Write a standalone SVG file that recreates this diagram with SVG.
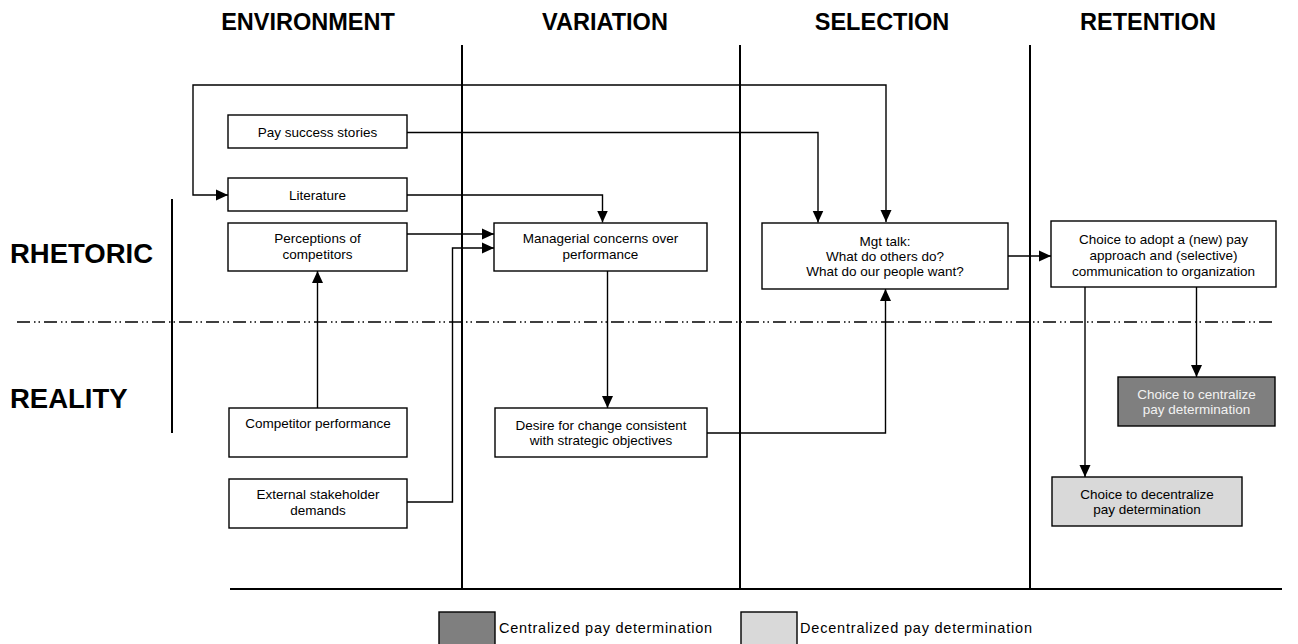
<svg xmlns="http://www.w3.org/2000/svg" width="1298" height="644" viewBox="0 0 1298 644">
<defs>
<marker id="ah" viewBox="0 0 12 12" refX="12" refY="6" markerWidth="12" markerHeight="12" markerUnits="userSpaceOnUse" orient="auto-start-reverse">
<path d="M0,0.5 L12,6 L0,11.5 Z" fill="#000"/>
</marker>
<style>
.hd{font-family:"Liberation Sans",Arial,sans-serif;font-weight:bold;font-size:23.5px;fill:#000;text-anchor:middle}
.side{font-family:"Liberation Sans",Arial,sans-serif;font-weight:bold;font-size:27.5px;fill:#000}
.bx{fill:#fff;stroke:#000;stroke-width:1.4}
.t{font-family:"Liberation Sans",Arial,sans-serif;font-size:13.5px;fill:#000;text-anchor:middle}
.tw{font-family:"Liberation Sans",Arial,sans-serif;font-size:13.5px;fill:#f2f2f2;text-anchor:middle}
.lg{font-family:"Liberation Sans",Arial,sans-serif;font-size:14.5px;fill:#000}
.c{fill:none;stroke:#000;stroke-width:1.4}
.ca{fill:none;stroke:#000;stroke-width:1.4;marker-end:url(#ah)}
.ph{stroke:#000;stroke-width:2;fill:none}
</style>
</defs>
<rect width="1298" height="644" fill="#fff"/>
<g id="headers">
<text class="hd" x="308" y="30">ENVIRONMENT</text>
<text class="hd" x="605" y="30">VARIATION</text>
<text class="hd" x="882" y="30">SELECTION</text>
<text class="hd" x="1148" y="30">RETENTION</text>
<text class="side" x="10" y="263">RHETORIC</text>
<text class="side" x="10" y="408">REALITY</text>
</g>
<g id="lanes">
<line class="ph" x1="462" y1="45" x2="462" y2="589"/>
<line class="ph" x1="740" y1="45" x2="740" y2="589"/>
<line class="ph" x1="1030" y1="45" x2="1030" y2="589"/>
<line class="ph" x1="230" y1="589" x2="1282" y2="589"/>
<line class="ph" x1="172" y1="199" x2="172" y2="433"/>
<line x1="17" y1="322" x2="1274" y2="322" stroke="#000" stroke-width="1.3" stroke-dasharray="13,4,1.5,3,1.5,4"/>
</g>
<g id="connectors">
<path class="ca" d="M886,222 V85 H193 V195 H228" style="marker-start:url(#ah)"/>
<path class="ca" d="M407,132.5 H818 V222.5"/>
<path class="ca" d="M407,195 H602.5 V222.5"/>
<path class="ca" d="M407,234 H494"/>
<path class="ca" d="M407,502 H452.5 V248 H494"/>
<path class="ca" d="M317.5,408 V271"/>
<path class="ca" d="M607.5,271 V408"/>
<path class="ca" d="M707,433 H885.5 V289"/>
<path class="ca" d="M1008,256 H1051"/>
<path class="ca" d="M1196.5,287 V377"/>
<path class="ca" d="M1085,287 V477"/>
</g>
<g id="n-pay">
<rect class="bx" x="228" y="115" width="179" height="33"/>
<text class="t" x="317.5" y="137">Pay success stories</text>
</g>
<g id="n-literature">
<rect class="bx" x="228" y="178" width="179" height="33"/>
<text class="t" x="317.5" y="200">Literature</text>
</g>
<g id="n-perceptions">
<rect class="bx" x="228" y="223" width="179" height="48"/>
<text class="t" x="317.5" y="243">Perceptions of</text>
<text class="t" x="317.5" y="259">competitors</text>
</g>
<g id="n-managerial">
<rect class="bx" x="494" y="223" width="213" height="48"/>
<text class="t" x="600.5" y="243">Managerial concerns over</text>
<text class="t" x="600.5" y="259">performance</text>
</g>
<g id="n-mgt">
<rect class="bx" x="762" y="223" width="246" height="66"/>
<text class="t" x="885" y="246">Mgt talk:</text>
<text class="t" x="885" y="261">What do others do?</text>
<text class="t" x="885" y="276">What do our people want?</text>
</g>
<g id="n-choice">
<rect class="bx" x="1051" y="221" width="225" height="66"/>
<text class="t" x="1163.5" y="244">Choice to adopt a (new) pay</text>
<text class="t" x="1163.5" y="260">approach and (selective)</text>
<text class="t" x="1163.5" y="275.5">communication to organization</text>
</g>
<g id="n-competitor">
<rect class="bx" x="229" y="408" width="178" height="49"/>
<text class="t" x="318" y="428">Competitor performance</text>
</g>
<g id="n-external">
<rect class="bx" x="229" y="479" width="178" height="49"/>
<text class="t" x="318" y="499">External stakeholder</text>
<text class="t" x="318" y="514.5">demands</text>
</g>
<g id="n-desire">
<rect class="bx" x="495" y="408" width="212" height="49"/>
<text class="t" x="601" y="430">Desire for change consistent</text>
<text class="t" x="601" y="445">with strategic objectives</text>
</g>
<g id="n-centralize">
<rect class="bx" x="1118" y="377" width="157" height="49" style="fill:#7f7f7f"/>
<text class="tw" x="1196.5" y="399">Choice to centralize</text>
<text class="tw" x="1196.5" y="414">pay determination</text>
</g>
<g id="n-decentralize">
<rect class="bx" x="1052" y="477" width="190" height="49" style="fill:#d9d9d9"/>
<text class="t" x="1147" y="499">Choice to decentralize</text>
<text class="t" x="1147" y="514">pay determination</text>
</g>
<g id="legend">
<rect class="bx" x="439" y="612" width="56" height="36" style="fill:#7f7f7f"/>
<text class="lg" x="499" y="633" textLength="213" lengthAdjust="spacing">Centralized pay determination</text>
<rect class="bx" x="741" y="612" width="56" height="36" style="fill:#d9d9d9"/>
<text class="lg" x="800" y="633" textLength="232" lengthAdjust="spacing">Decentralized pay determination</text>
</g>
</svg>
